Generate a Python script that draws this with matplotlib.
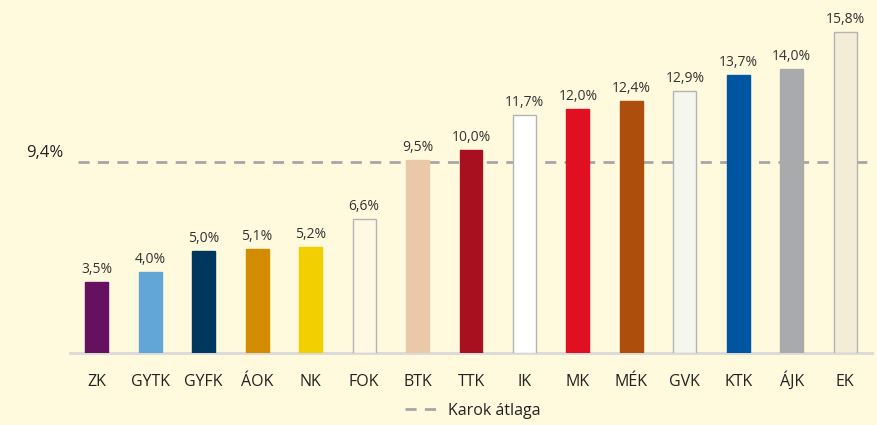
import matplotlib.pyplot as plt
from matplotlib.lines import Line2D

# data
karok = ["ZK", "GYTK", "GYFK", "ÁOK", "NK", "FOK", "BTK", "TTK", "IK", "MK",
         "MÉK", "GVK", "KTK", "ÁJK", "EK"]
ertekek = [3.5, 4.0, 5.0, 5.1, 5.2, 6.6, 9.5, 10.0, 11.7, 12.0, 12.4, 12.9,
           13.7, 14.0, 15.8]
atlag = 9.4
szinek = ["#65115f", "#62a6d8", "#00375f", "#d38b00", "#f2cf00", "#fff8e4",
          "#e9c9a8", "#a8101f", "#ffffff", "#e00f22", "#ad4e0d", "#f5f7ee",
          "#0055a0", "#a9aaac", "#f3ecd6"]
keretes = ["FOK", "IK", "GVK", "EK"]

BG = "#fffadd"
plt.rcParams["font.family"] = ["Open Sans", "DejaVu Sans"]

fig = plt.figure(figsize=(8.78, 4.25), dpi=100, facecolor=BG)
ax = fig.add_axes([70 / 878, 1 - 353 / 425, 802 / 878, 348 / 425])
ax.set_facecolor(BG)

x = range(len(karok))
edges = ["#b4b4b4" if k in keretes else c for k, c in zip(karok, szinek)]
bars = ax.bar(x, ertekek, width=0.43, color=szinek, edgecolor=edges,
              linewidth=1.0, zorder=3)

for b, v in zip(bars, ertekek):
    ax.text(b.get_x() + b.get_width() / 2, v + 0.25, f"{v:.1f}%".replace(".", ","),
            ha="center", va="bottom", fontsize=10, color="#333333")

ax.axhline(atlag, xmin=0.01, xmax=1.0, color="#a6a6a6", linewidth=2,
           linestyle=(0, (4, 3)), zorder=2)
ax.text(-0.008, atlag + 0.05, f"{atlag:.1f}%".replace(".", ","),
        transform=ax.get_yaxis_transform(), ha="right", va="bottom",
        fontsize=12, color="#222222")

ax.set_xlim(-0.5, len(karok) - 0.5)
ax.set_ylim(0, 17.14)
ax.set_xticks(list(x))
ax.set_xticklabels(karok, fontsize=11.5, color="#222222", va="baseline")
ax.tick_params(axis="x", length=0, pad=23.5)
ax.set_yticks([])
for s in ["top", "right", "left"]:
    ax.spines[s].set_visible(False)
ax.spines["bottom"].set_color("#d9d9d9")
ax.spines["bottom"].set_linewidth(2)

handle = Line2D([], [], color="#a6a6a6", linewidth=2, linestyle=(0, (4, 3)))
fig.legend([handle], ["Karok átlaga"], loc="center", bbox_to_anchor=(0.538, 1 - 411 / 425),
           frameon=False, fontsize=11.5, handlelength=2.0, handletextpad=0.7,
           labelcolor="#222222")

fig.savefig("out.png", dpi=100, facecolor=BG)
